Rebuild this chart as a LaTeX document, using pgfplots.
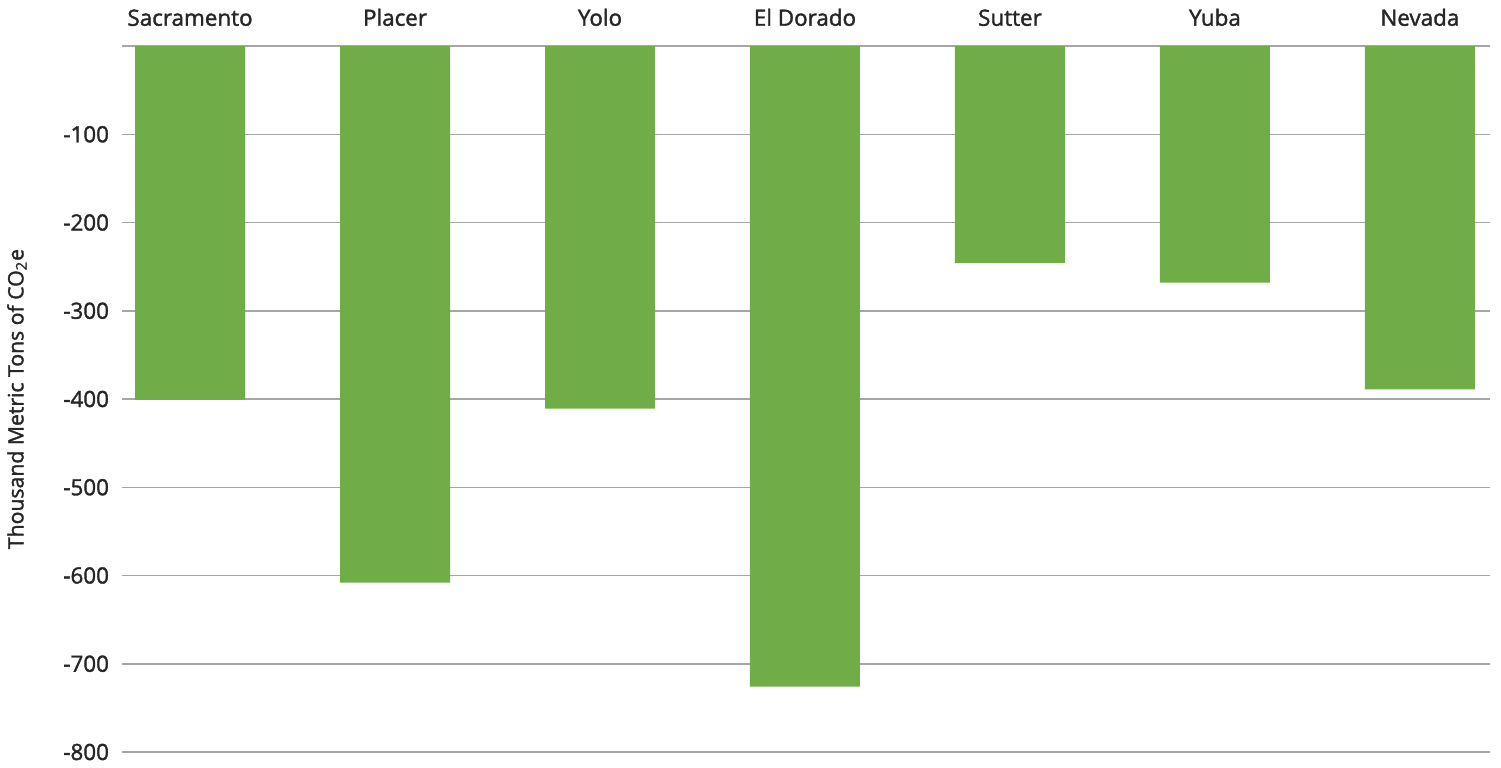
\documentclass[border=0pt]{standalone}
\usepackage{fontspec}
\setmainfont{Open Sans}
\newfontfamily\semib{Open Sans}[UprightFeatures={FakeBold=1.6}]
\usepackage{pgfplots}
\pgfplotsset{compat=1.18}
\definecolor{barg}{HTML}{70AD47}
\definecolor{gridg}{HTML}{A6A6A6}
\definecolor{txt}{HTML}{262626}
\begin{document}
\begin{tikzpicture}
\path[use as bounding box] (0,0) rectangle (750.5pt,383.5pt);
\begin{axis}[
  at={(61pt,7.5pt)}, anchor=south west,
  scale only axis, width=684pt, height=353pt,
  ybar, bar width=55pt,
  xmin=-0.332, xmax=6.342, ymin=-800, ymax=0,
  xtick=data,
  xticklabels={Sacramento,Placer,Yolo,El Dorado,Sutter,Yuba,Nevada},
  xticklabel pos=upper,
  ytick={-800,-700,-600,-500,-400,-300,-200,-100,0},
  yticklabels={-800,-700,-600,-500,-400,-300,-200,-100,{}},
  major tick length=0pt,
  axis line style={draw=none},
  ymajorgrids, grid style={gridg, line width=0.75pt},
  tick label style={font=\fontsize{11.2}{13}\selectfont\semib, text=txt},
  xticklabel style={yshift=6.5pt},
  yticklabel style={xshift=-3pt},
  /pgf/number format/assume math mode=true,
  ylabel={Thousand Metric Tons of CO\textsubscript{2}e},
  ylabel style={font=\fontsize{10.6}{12}\selectfont\semib, text=txt,
    at={(axis description cs:-0.0768,0.5)}, anchor=center},
]
\addplot[fill=barg, draw=none, bar shift=0pt] coordinates {
(0,-401) (1,-608) (2,-411) (3,-726) (4,-246) (5,-268) (6,-389)};
\end{axis}
\end{tikzpicture}
\end{document}
